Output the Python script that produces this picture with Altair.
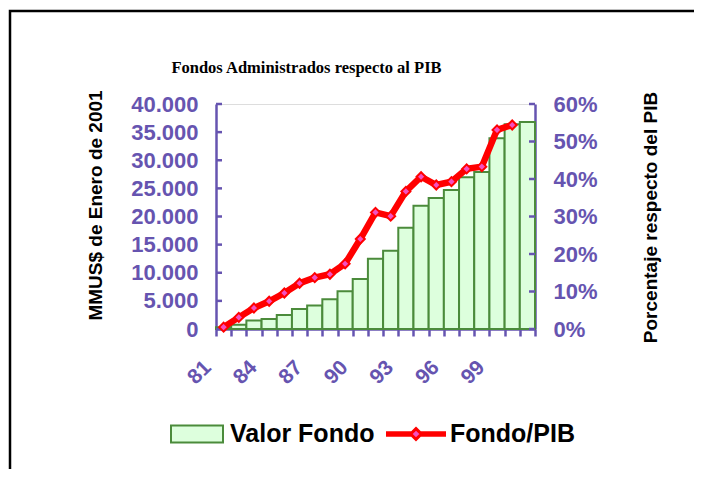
import altair as alt
import pandas as pd

years = ['81', '82', '83', '84', '85', '86', '87', '88', '89', '90', '91',
         '92', '93', '94', '95', '96', '97', '98', '99', '00', '01']
valor_fondo = [300, 750, 1500, 1800, 2500, 3550, 4200, 5300, 6700, 8900, 12500,
               13900, 18000, 21900, 23300, 24700, 27000, 27900, 33900, 36400, 36800]
fondo_pib = [0.5, 3.1, 5.6, 7.4, 9.6, 12.2, 13.7, 14.6, 17.4, 24.0, 31.1,
             30.1, 36.7, 40.6, 38.4, 39.3, 42.7, 43.3, 53.1, 54.4, None]
left_ticks = [0, 5000, 10000, 15000, 20000, 25000, 30000, 35000, 40000]
right_ticks = [0, 10, 20, 30, 40, 50, 60]
label_years = ['81', '84', '87', '90', '93', '96', '99']

PURPLE = '#6654B0'
BAR_FILL = '#DDFFDD'
BAR_STROKE = '#4B8B3B'
LINE = '#FF0000'
MARK_FILL = '#F550C0'
FONT = 'Liberation Sans'
W, H = 319, 225

df = pd.DataFrame({'year': years, 'valor': valor_fondo, 'pct': fondo_pib,
                   's1': 'Valor Fondo', 's2': 'Fondo/PIB'})

label_list = "[" + ",".join("'%s'" % y for y in label_years) + "]"
xenc = alt.X('year:N', sort=years,
             scale=alt.Scale(paddingInner=0, paddingOuter=0),
             axis=alt.Axis(title=None, grid=False,
                           labelExpr="indexof(%s, datum.label) >= 0 ? datum.label : ''" % label_list,
                           labelAngle=315, labelAlign='right', labelBaseline='middle',
                           labelFont=FONT, labelFontWeight='bold', labelFontSize=21,
                           labelColor=PURPLE, labelPadding=28, labelOffset=-16,
                           labelOverlap=False, tickBand='extent', tickSize=7,
                           tickColor=PURPLE, tickWidth=2.5, domainColor=PURPLE,
                           domainWidth=2.5))

yleft_scale = alt.Scale(domain=[0, 40000], nice=False, zero=True)
yright_scale = alt.Scale(domain=[0, 60], nice=False, zero=True)

left_axis = alt.Axis(values=left_ticks, grid=False, ticks=False,
                     labelExpr="replace(format(datum.value, ','), ',', '.')",
                     labelFont=FONT, labelFontWeight='bold', labelFontSize=22,
                     labelColor=PURPLE, labelPadding=18,
                     domainColor=PURPLE, domainWidth=2.5,
                     title='MMUS$ de Enero de 2001', titleFont=FONT,
                     titleFontWeight='bold', titleFontSize=19, titleColor='black',
                     titleAngle=270, titleAlign='center', titleBaseline='middle',
                     titleX=-121, titleY=101)

right_axis = alt.Axis(orient='right', values=right_ticks, grid=False, ticks=False,
                      labelExpr="datum.value + '%'",
                      labelFont=FONT, labelFontWeight='bold', labelFontSize=22,
                      labelColor=PURPLE, labelPadding=18,
                      domainColor=PURPLE, domainWidth=2.5,
                      title='Porcentaje respecto del PIB', titleFont=FONT,
                      titleFontWeight='bold', titleFontSize=19, titleColor='black',
                      titleAngle=270, titleAlign='center', titleBaseline='middle',
                      titleX=115, titleY=113)

bars = alt.Chart(df).mark_bar(stroke=BAR_STROKE, strokeWidth=2).encode(
    x=xenc,
    y=alt.Y('valor:Q', scale=yleft_scale, axis=left_axis),
    fill=alt.Fill('s1:N', scale=alt.Scale(domain=['Valor Fondo'], range=[BAR_FILL]),
                  legend=alt.Legend(orient='none', legendX=-46, legendY=303, title=None,
                                    padding=0,
                                    symbolType='M-1,-0.33H1V0.33H-1Z', symbolSize=2704,
                                    symbolStrokeColor=BAR_STROKE, symbolStrokeWidth=2,
                                    symbolFillColor=BAR_FILL, symbolOpacity=1,
                                    labelFont=FONT, labelFontSize=25, labelFontWeight='bold',
                                    labelColor='black', labelOffset=6)),
)

lticks = alt.Chart(pd.DataFrame({'valor': left_ticks})).mark_rule(
    color=PURPLE, strokeWidth=2.5).encode(
    y=alt.Y('valor:Q', scale=yleft_scale, axis=left_axis),
    x=alt.value(0), x2=alt.value(6))

frame = alt.Chart(pd.DataFrame({'a': [0]})).mark_rect(
    fillOpacity=0, stroke='black', strokeWidth=2.5).encode(
    x=alt.value(-206), x2=alt.value(2000), y=alt.value(-93), y2=alt.value(2000))

left = alt.layer(bars, lticks)

line = alt.Chart(df).mark_line(strokeWidth=6.5).encode(
    x=xenc,
    y=alt.Y('pct:Q', scale=yright_scale, axis=right_axis),
    stroke=alt.Stroke('s2:N', scale=alt.Scale(domain=['Fondo/PIB'], range=[LINE]),
                      legend=alt.Legend(orient='none', legendX=170, legendY=300, title=None,
                                        padding=0,
                                        symbolType='M-1,-0.04H-0.19V0.04H-1ZM0.19,-0.04H1V0.04H0.19ZM0,-0.19L0.19,0L0,0.19L-0.19,0Z',
                                        symbolSize=3249, symbolStrokeWidth=3,
                                        symbolFillColor=MARK_FILL, symbolStrokeColor=LINE,
                                        symbolOpacity=1,
                                        labelFont=FONT, labelFontSize=25, labelFontWeight='bold',
                                        labelColor='black', labelOffset=4)),
)

points = alt.Chart(df).mark_point(shape='diamond', filled=True, fill=MARK_FILL,
                                   stroke=LINE, strokeWidth=2, size=80, opacity=1).encode(
    x=xenc,
    y=alt.Y('pct:Q', scale=yright_scale, axis=right_axis))

rticks = alt.Chart(pd.DataFrame({'pct': right_ticks})).mark_rule(
    color=PURPLE, strokeWidth=2.5).encode(
    y=alt.Y('pct:Q', scale=yright_scale, axis=right_axis),
    x=alt.value(W - 6), x2=alt.value(W))

right = alt.layer(line, points, rticks)

chart = alt.layer(frame, left, right).resolve_scale(y='independent').properties(
    width=W, height=H,
    title=alt.Title('Fondos Administrados respecto al PIB', font='Liberation Serif',
                    fontSize=16.5, fontWeight='bold', color='black', anchor='middle',
                    dx=-69, dy=80, offset=0, baseline='alphabetic'),
    autosize=alt.AutoSizeParams(type='none'),
    padding={'left': 208, 'top': 96, 'right': 159, 'bottom': 140},
).configure_view(stroke=None).configure(background='white')

chart.save('out.html', embed_options={'renderer': 'svg', 'actions': False})
